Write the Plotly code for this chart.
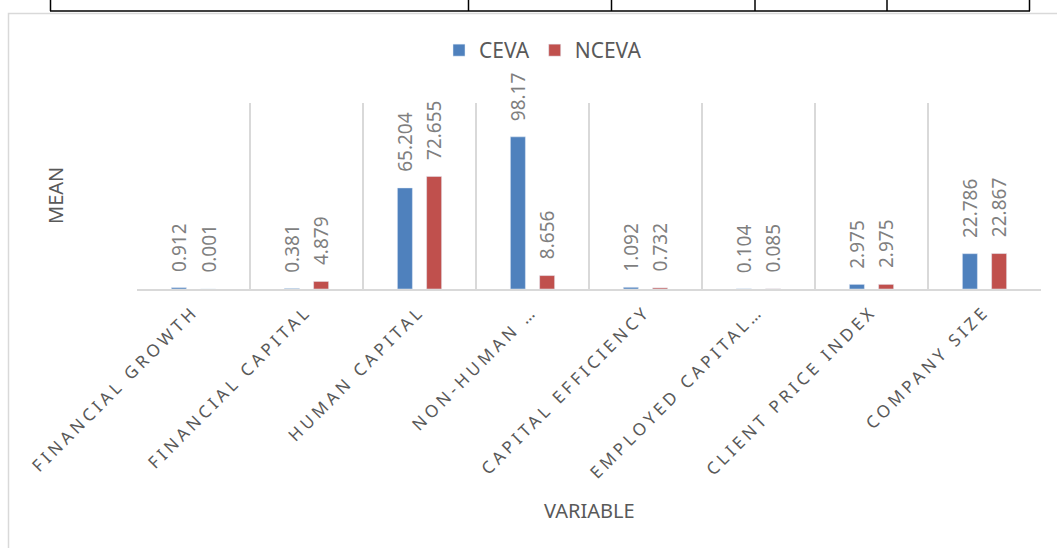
import plotly.graph_objects as go

# Mean of each variable for the two company groups
categories = [
    "FINANCIAL GROWTH",
    "FINANCIAL CAPITAL",
    "HUMAN CAPITAL",
    "NON-HUMAN …",
    "CAPITAL EFFICIENCY",
    "EMPLOYED CAPITAL…",
    "CLIENT PRICE INDEX",
    "COMPANY SIZE",
]
ceva = [0.912, 0.381, 65.204, 98.17, 1.092, 0.104, 2.975, 22.786]
nceva = [0.001, 4.879, 72.655, 8.656, 0.732, 0.085, 2.975, 22.867]

BLUE = "#4f81bd"
RED = "#c0504d"
GRID = "#d9d9d9"
TEXT = "#595959"
LABEL = "#7f7f7f"
FONT = "Noto Sans"

W, H = 1057, 548
L, R, T, B = 137, 16, 103, 259
PW, PH = W - L - R, H - T - B


def px_x(x):
    return (x - L) / PW


def px_y(y):
    return (H - B - y) / PH


fig = go.Figure()
fig.add_trace(go.Bar(name="CEVA", x=categories, y=ceva, marker_color=BLUE))
fig.add_trace(go.Bar(name="NCEVA", x=categories, y=nceva, marker_color=RED))

# value labels above each bar, rotated
slot = PW / len(categories) * (1 - 0.483) / 2
for vals, shift in ((ceva, -slot / 2), (nceva, slot / 2)):
    for c, v in zip(categories, vals):
        fig.add_annotation(
            x=c, y=v, text=str(v), textangle=-90, showarrow=False,
            xanchor="center", yanchor="bottom", xshift=shift, yshift=14,
            font=dict(family=FONT, size=19, color=LABEL),
        )

# axis titles
fig.add_annotation(x=px_x(589), y=px_y(510), xref="paper", yref="paper",
                   text="VARIABLE", showarrow=False, xanchor="center",
                   yanchor="middle", font=dict(family=FONT, size=20, color=TEXT))
fig.add_annotation(x=px_x(55), y=px_y(196), xref="paper", yref="paper",
                   text="MEAN", showarrow=False, textangle=-90,
                   xanchor="center", yanchor="middle",
                   font=dict(family=FONT, size=20, color=TEXT))

shapes = []
# chart frame
shapes.append(dict(type="rect", xref="paper", yref="paper",
                   x0=px_x(8.5), x1=px_x(1065), y0=px_y(560), y1=px_y(13.5),
                   line=dict(color=GRID, width=1.5), layer="below"))
# table rules above the chart
shapes.append(dict(type="line", xref="paper", yref="paper",
                   x0=px_x(50), x1=px_x(1030), y0=px_y(11), y1=px_y(11),
                   line=dict(color="black", width=1.5)))
for xv in (50.5, 468.5, 611.5, 755, 887, 1029.5):
    shapes.append(dict(type="line", xref="paper", yref="paper",
                       x0=px_x(xv), x1=px_x(xv), y0=px_y(-2), y1=px_y(11),
                       line=dict(color="black", width=1.5)))

fig.update_layout(
    width=W, height=H,
    margin=dict(l=L, r=R, t=T, b=B, autoexpand=False),
    paper_bgcolor="white", plot_bgcolor="white",
    barmode="group", bargap=0.483, bargroupgap=0.486,
    font=dict(family=FONT, color=TEXT),
    showlegend=True,
    legend=dict(orientation="h", x=px_x(439), xanchor="left",
                y=px_y(50.5), yanchor="middle", itemwidth=30,
                font=dict(family=FONT, size=21, color=TEXT),
                bgcolor="rgba(0,0,0,0)"),
    shapes=shapes,
    xaxis=dict(
        type="category", tickson="boundaries", showgrid=True,
        gridcolor=GRID, gridwidth=1.5, showline=True, linecolor=GRID,
        linewidth=1.5, ticks="", tickangle=-45, ticklabelstandoff=4,
        tickfont=dict(family=FONT, size=17, color=TEXT),
        automargin=False, range=[-0.5, 7.5],
    ),
    yaxis=dict(
        range=[0, 120], showgrid=False, zeroline=False, showline=False,
        showticklabels=False, ticks="", automargin=False,
    ),
)

# wide character spacing on the category labels
post = (
    "var s=document.createElement('style');"
    "s.textContent='.xtick text{letter-spacing:3.8px}';"
    "document.head.appendChild(s);"
)
fig.write_html("out.html", post_script=post)
